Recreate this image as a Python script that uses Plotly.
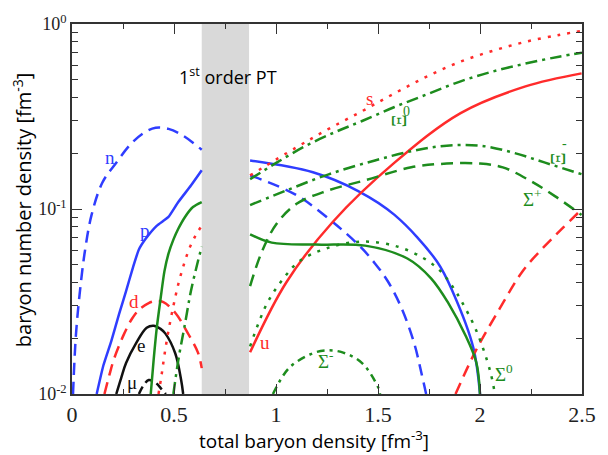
import math
import plotly.graph_objects as go

# Phase-transition region (total baryon density, fm^-3)
pt_band = [0.636, 0.868]

# ---- particle number densities (fm^-3) vs total baryon density (fm^-3) ----
# hadronic phase (below the transition)
n_lo_x = [0.005, 0.019, 0.039, 0.063, 0.096, 0.149, 0.217, 0.289, 0.352, 0.41, 0.473, 0.545, 0.636]
n_lo_y = [0.01, 0.0207, 0.036, 0.0589, 0.0929, 0.139, 0.178, 0.225, 0.258, 0.275, 0.271, 0.249, 0.209]
p_lo_x = [0.121, 0.154, 0.193, 0.231, 0.265, 0.299, 0.328, 0.362, 0.415, 0.448, 0.473, 0.521, 0.583, 0.636]
p_lo_y = [0.01, 0.0143, 0.0194, 0.0271, 0.036, 0.0484, 0.0604, 0.0692, 0.0811, 0.0863, 0.0906, 0.109, 0.134, 0.162]
e_x = [0.217, 0.241, 0.265, 0.313, 0.366, 0.4, 0.434, 0.458, 0.506, 0.535, 0.545]
e_y = [0.01, 0.0122, 0.0147, 0.0187, 0.0228, 0.0234, 0.0225, 0.0212, 0.0166, 0.0119, 0.01]
mu_x = [0.328, 0.35, 0.376, 0.41, 0.44, 0.46]
mu_y = [0.01, 0.0111, 0.0119, 0.0115, 0.0106, 0.01]
d_lo_x = [0.159, 0.183, 0.207, 0.256, 0.294, 0.328, 0.376, 0.41, 0.448, 0.506, 0.569, 0.617, 0.636]
d_lo_y = [0.01, 0.01264, 0.0156, 0.0212, 0.0255, 0.0285, 0.031, 0.0318, 0.0314, 0.0275, 0.0212, 0.0168, 0.0138]
s_lo_x = [0.424, 0.439, 0.453, 0.473, 0.497, 0.521, 0.55, 0.579, 0.608, 0.636]
s_lo_y = [0.01, 0.01264, 0.0162, 0.022, 0.0299, 0.0392, 0.0508, 0.0626, 0.0726, 0.0811]
lam_lo_x = [0.386, 0.4, 0.415, 0.434, 0.453, 0.473, 0.497, 0.521, 0.554, 0.593, 0.636]
lam_lo_y = [0.01, 0.0152, 0.0225, 0.0326, 0.046, 0.0574, 0.0683, 0.0782, 0.0906, 0.1025, 0.109]
xim_lo_x = [0.497, 0.521, 0.554, 0.583, 0.617, 0.636]
xim_lo_y = [0.01, 0.0152, 0.024, 0.036, 0.052, 0.0626]

# above the transition
n_hi_x = [0.873, 1.099, 1.278, 1.413, 1.485, 1.548, 1.615, 1.678, 1.712, 1.736]
n_hi_y = [0.152, 0.119, 0.085, 0.0626, 0.0508, 0.0407, 0.0292, 0.0187, 0.0131, 0.01]
p_hi_x = [0.873, 1.181, 1.403, 1.581, 1.789, 1.871, 1.967, 2.0]
p_hi_y = [0.183, 0.158, 0.125, 0.0929, 0.052, 0.0347, 0.0178, 0.01]
u_x = [0.873, 1.051, 1.278, 1.581, 1.905, 2.223, 2.498]
u_y = [0.0168, 0.0402, 0.0851, 0.178, 0.330, 0.460, 0.541]
d_hi_x = [1.88, 1.98, 2.097, 2.208, 2.305, 2.401, 2.5]
d_hi_y = [0.01, 0.0172, 0.029, 0.046, 0.061, 0.078, 0.1]
s_hi_x = [0.873, 1.099, 1.258, 1.422, 1.581, 1.741, 1.905, 2.064, 2.223, 2.387, 2.5]
s_hi_y = [0.152, 0.215, 0.271, 0.338, 0.422, 0.521, 0.626, 0.717, 0.801, 0.873, 0.918]
lam_hi_x = [0.873, 0.979, 1.196, 1.437, 1.644, 1.76, 1.847, 1.929, 1.982, 2.0]
lam_hi_y = [0.073, 0.0658, 0.0642, 0.0634, 0.054, 0.0422, 0.0307, 0.0207, 0.0148, 0.01]
xi0_x = [0.873, 1.003, 1.148, 1.292, 1.422, 1.581, 1.741, 1.905, 2.064, 2.223, 2.387, 2.5]
xi0_y = [0.145, 0.178, 0.22, 0.261, 0.299, 0.356, 0.417, 0.49, 0.554, 0.611, 0.666, 0.70]
xim_hi_x = [0.873, 1.051, 1.258, 1.485, 1.678, 1.837, 2.0, 2.16, 2.319, 2.5]
xim_hi_y = [0.105, 0.126, 0.154, 0.183, 0.207, 0.22, 0.22, 0.202, 0.178, 0.154]
sigp_x = [0.873, 0.931, 1.003, 1.099, 1.244, 1.437, 1.663, 1.837, 2.0, 2.112, 2.242, 2.367, 2.498]
sigp_y = [0.0383, 0.0589, 0.0832, 0.1063, 0.1248, 0.1429, 0.168, 0.176, 0.176, 0.168, 0.143, 0.1174, 0.0929]
sig0_x = [0.873, 0.955, 1.037, 1.114, 1.244, 1.422, 1.596, 1.726, 1.808, 1.871, 1.909, 1.982, 2.049, 2.073]
sig0_y = [0.0181, 0.0307, 0.0422, 0.0521, 0.0611, 0.0667, 0.0626, 0.054, 0.046, 0.0373, 0.0318, 0.022, 0.0134, 0.01]
sigm_x = [0.985, 1.066, 1.181, 1.244, 1.326, 1.422, 1.5, 1.51]
sigm_y = [0.01, 0.0139, 0.0166, 0.0172, 0.0168, 0.0147, 0.0109, 0.01]

x_ticks = [0, 0.5, 1, 1.5, 2, 2.5]
x_ticklabels = ["0", "0.5", "1", "1.5", "2", "2.5"]
y_ticks = [0.01, 0.1, 1]
y_ticklabels = ["10<sup>-2</sup>", "10<sup>-1</sup>", "10<sup>0</sup>"]

BLUE = "#2f3dff"
RED = "#ff2b2b"
GREEN = "#1d8c1d"
BLACK = "#111111"

DASH = "12px,7px"
DOT = "3px,7px"
DASHDOT = "12px,5px,3px,5px"
SHORTDASHDOT = "8px,5px,3px,5px"

curves = [
    (n_lo_x, n_lo_y, BLUE, DASH, 1.0),
    (n_hi_x, n_hi_y, BLUE, DASH, 1.0),
    (p_lo_x, p_lo_y, BLUE, "solid", 0.5),
    (p_hi_x, p_hi_y, BLUE, "solid", 1.0),
    (e_x, e_y, BLACK, "solid", 1.0),
    (mu_x, mu_y, BLACK, "8px,5px", 1.0),
    (d_lo_x, d_lo_y, RED, DASH, 1.0),
    (d_hi_x, d_hi_y, RED, DASH, 1.0),
    (u_x, u_y, RED, "solid", 1.0),
    (s_lo_x, s_lo_y, RED, DOT, 1.0),
    (s_hi_x, s_hi_y, RED, DOT, 1.0),
    (lam_lo_x, lam_lo_y, GREEN, "solid", 0.7),
    (lam_hi_x, lam_hi_y, GREEN, "solid", 1.0),
    (xim_lo_x, xim_lo_y, GREEN, DASHDOT, 1.0),
    (xim_hi_x, xim_hi_y, GREEN, DASHDOT, 1.0),
    (xi0_x, xi0_y, GREEN, DASHDOT, 1.0),
    (sigp_x, sigp_y, GREEN, DASH, 1.0),
    (sig0_x, sig0_y, GREEN, DOT, 1.0),
    (sigm_x, sigm_y, GREEN, SHORTDASHDOT, 1.0),
]

fig = go.Figure()
for xs, ys, col, dash, sm in curves:
    fig.add_trace(go.Scatter(
        x=xs, y=ys, mode="lines",
        line=dict(color=col, width=2.5, dash=dash, shape="spline", smoothing=sm),
        showlegend=False, hoverinfo="skip",
    ))

# mixed-phase band
fig.add_shape(type="rect", xref="x", yref="paper",
              x0=pt_band[0], x1=pt_band[1], y0=0, y1=1,
              fillcolor="#d9d9d9", line=dict(width=0), layer="below")

serif = "Liberation Serif"
sans = "Open Sans"

# curve labels (annotation y on a log axis is given as log10)
labels = [
    ("n", 0.188, 0.19, BLUE),
    ("p", 0.357, 0.0763, BLUE),
    ("d", 0.304, 0.0318, RED),
    ("e", 0.338, 0.0183, BLACK),
    ("\u03bc", 0.294, 0.0115, BLACK),
    ("u", 0.945, 0.019, RED),
    ("s", 1.456, 0.397, RED),
    ("\u03a3<sup>+</sup>", 2.255, 0.115, GREEN),
    ("\u03a3<sup>-</sup>", 1.245, 0.0152, GREEN),
    ("\u03a3<sup>0</sup>", 2.12, 0.0130, GREEN),
]
for txt, lx, ly, col in labels:
    fig.add_annotation(x=lx, y=math.log10(ly), text=txt, showarrow=False,
                       font=dict(family=serif, size=19, color=col))

# rotated Xi labels
for lx, ly, sx, sy, sup in [(1.601, 0.300, 1.641, 0.338, "0"), (2.382, 0.188, 2.412, 0.226, "-")]:
    fig.add_annotation(x=lx, y=math.log10(ly), text="\u039e", textangle=-90, showarrow=False,
                       font=dict(family=serif, size=20, color=GREEN))
    fig.add_annotation(x=sx, y=math.log10(sy), text=sup, showarrow=False,
                       font=dict(family=serif, size=14, color=GREEN))

fig.add_annotation(x=0.764, y=math.log10(0.521), text="1<sup>st</sup> order PT", showarrow=False,
                   font=dict(family=sans, size=18, color="black"))

# axis titles
fig.add_annotation(xref="paper", yref="paper", x=0.475, y=-0.123, yanchor="middle",
                   text="total baryon density [fm<sup>-3</sup>]", showarrow=False,
                   font=dict(family=sans, size=19, color="black"))
fig.add_annotation(xref="paper", yref="paper", x=-0.098, y=0.497, xanchor="center", textangle=-90,
                   text="baryon number density [fm<sup>-3</sup>]", showarrow=False,
                   font=dict(family=sans, size=20, color="black"))

axis_common = dict(showline=True, linecolor="#333333", linewidth=1.5, mirror="allticks",
                   ticks="inside", ticklen=10, tickwidth=1.3, tickcolor="#333333",
                   showgrid=False, zeroline=False)

fig.update_xaxes(range=[0, 2.5], tickvals=x_ticks, ticktext=x_ticklabels,
                 tickfont=dict(family=serif, size=22, color="#222222"),
                 minor=dict(tickvals=[0.25, 0.75, 1.25, 1.75, 2.25], ticks="inside",
                            ticklen=5, tickwidth=1.3, tickcolor="#333333"),
                 **axis_common)
minor_y = [m * 10 ** k for k in (-2, -1) for m in range(2, 10)]
fig.update_yaxes(type="log", range=[-2, 0], tickvals=y_ticks, ticktext=y_ticklabels,
                 tickfont=dict(family=serif, size=18, color="#222222"),
                 minor=dict(tickvals=minor_y, ticks="inside", ticklen=6,
                            tickwidth=1.3, tickcolor="#333333"),
                 **axis_common)

fig.update_layout(width=608, height=455, margin=dict(l=72, r=18, t=20, b=61),
                  paper_bgcolor="white", plot_bgcolor="white")

fig.write_html("out.html")
